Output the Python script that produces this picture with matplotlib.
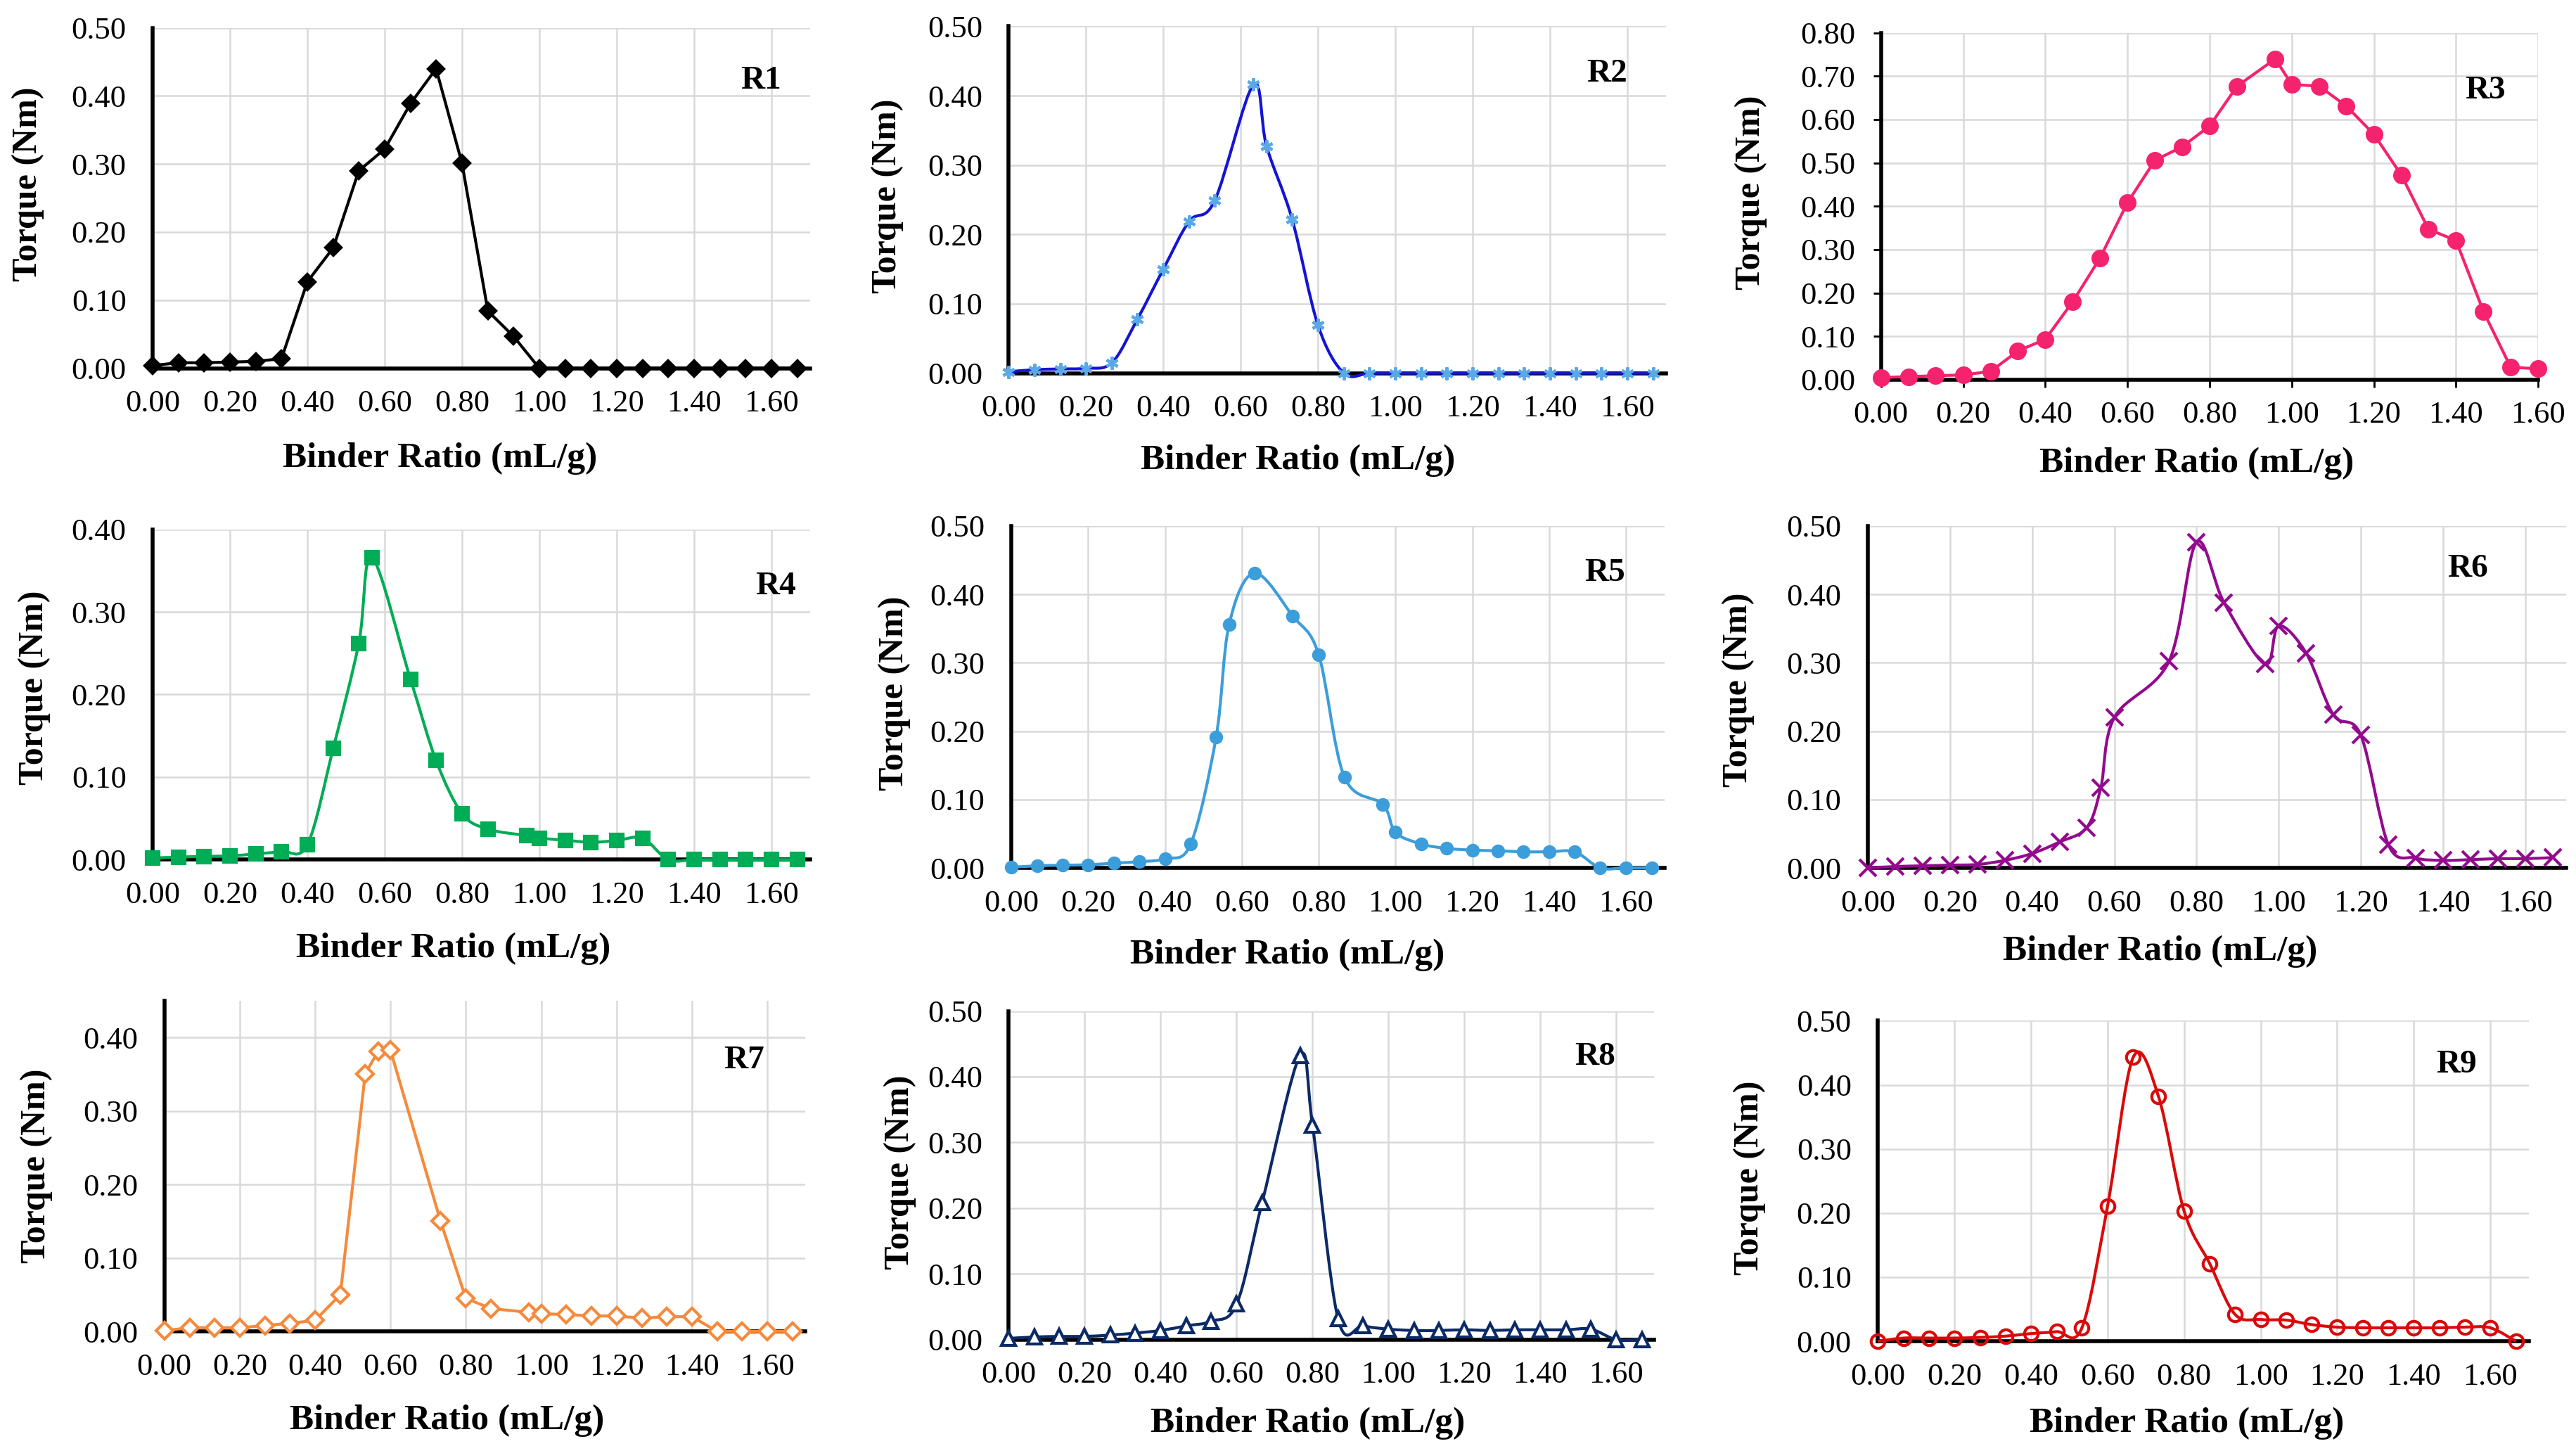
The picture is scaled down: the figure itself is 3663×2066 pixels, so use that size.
import numpy as np
import matplotlib
import matplotlib.pyplot as plt
from matplotlib.path import Path
from matplotlib.patches import PathPatch

matplotlib.use('agg')

plt.rcParams['font.family'] = ['Liberation Serif', 'DejaVu Serif']

# Data (binder ratio in mL/g, torque in Nm)
r1_x = [0, 0.067, 0.133, 0.2, 0.267, 0.333, 0.4, 0.467, 0.533, 0.6, 0.667, 0.733, 0.8, 0.867, 0.933,
        1.0, 1.067, 1.133, 1.2, 1.267, 1.333, 1.4, 1.467, 1.533, 1.6, 1.667]
r1_y = [0.004, 0.008, 0.008, 0.009, 0.010, 0.014, 0.127, 0.177, 0.290, 0.322, 0.389, 0.440, 0.301, 0.084,
        0.047, 0, 0, 0, 0, 0, 0, 0, 0, 0, 0, 0]

r2_x = [0, 0.067, 0.133, 0.2, 0.267, 0.333, 0.4, 0.467, 0.533, 0.633, 0.667, 0.733, 0.8, 0.867, 0.933,
        1.0, 1.067, 1.133, 1.2, 1.267, 1.333, 1.4, 1.467, 1.533, 1.6, 1.667]
r2_y = [0.002, 0.005, 0.006, 0.007, 0.015, 0.078, 0.150, 0.219, 0.249, 0.416, 0.327, 0.222, 0.069, 0,
        0, 0, 0, 0, 0, 0, 0, 0, 0, 0, 0, 0]

r3_x = [0, 0.067, 0.133, 0.2, 0.267, 0.333, 0.4, 0.467, 0.533, 0.6, 0.667, 0.733, 0.8, 0.867, 0.96,
        1.0, 1.067, 1.133, 1.2, 1.267, 1.333, 1.4, 1.467, 1.533, 1.6]
r3_y = [0.005, 0.007, 0.009, 0.011, 0.019, 0.066, 0.093, 0.180, 0.280, 0.408, 0.506, 0.537, 0.585, 0.677,
        0.740, 0.681, 0.677, 0.631, 0.566, 0.472, 0.347, 0.321, 0.157, 0.029, 0.025]

r4_x = [0, 0.067, 0.133, 0.2, 0.267, 0.333, 0.4, 0.467, 0.533, 0.567, 0.667, 0.733, 0.8, 0.867, 0.967,
        1.0, 1.067, 1.133, 1.2, 1.267, 1.333, 1.4, 1.467, 1.533, 1.6, 1.667]
r4_y = [0.002, 0.003, 0.004, 0.0045, 0.007, 0.010, 0.018, 0.135, 0.262, 0.366, 0.218, 0.120, 0.056, 0.037,
        0.029, 0.026, 0.0235, 0.021, 0.023, 0.026, 0, 0, 0, 0, 0, 0]

r5_x = [0, 0.067, 0.133, 0.2, 0.267, 0.333, 0.4, 0.467, 0.533, 0.567, 0.633, 0.733, 0.8, 0.867, 0.967,
        1.0, 1.067, 1.133, 1.2, 1.267, 1.333, 1.4, 1.467, 1.533, 1.6, 1.667]
r5_y = [0.001, 0.003, 0.004, 0.0045, 0.007, 0.009, 0.0135, 0.035, 0.191, 0.356, 0.431, 0.368, 0.312, 0.133,
        0.093, 0.052, 0.035, 0.0285, 0.026, 0.025, 0.0235, 0.0235, 0.0235, 0, 0, 0]

r6_x = [0, 0.067, 0.133, 0.2, 0.267, 0.333, 0.4, 0.467, 0.533, 0.567, 0.6, 0.733, 0.8, 0.867, 0.967,
        1.0, 1.067, 1.133, 1.2, 1.267, 1.333, 1.4, 1.467, 1.533, 1.6, 1.667]
r6_y = [0.0, 0.002, 0.003, 0.004, 0.005, 0.011, 0.021, 0.038, 0.059, 0.117, 0.220, 0.302, 0.476, 0.388,
        0.298, 0.354, 0.314, 0.224, 0.194, 0.034, 0.0145, 0.011, 0.012, 0.0135, 0.0135, 0.015]

r7_x = [0, 0.067, 0.133, 0.2, 0.267, 0.333, 0.4, 0.467, 0.533, 0.567, 0.6, 0.733, 0.8, 0.867, 0.967,
        1.0, 1.067, 1.133, 1.2, 1.267, 1.333, 1.4, 1.467, 1.533, 1.6, 1.667]
r7_y = [0.001, 0.005, 0.005, 0.005, 0.008, 0.011, 0.015, 0.050, 0.351, 0.381, 0.383, 0.150, 0.045, 0.031,
        0.026, 0.024, 0.023, 0.021, 0.021, 0.018, 0.020, 0.020, 0, 0, 0, 0]

r8_x = [0, 0.067, 0.133, 0.2, 0.267, 0.333, 0.4, 0.467, 0.533, 0.6, 0.667, 0.767, 0.8, 0.867, 0.933,
        1.0, 1.067, 1.133, 1.2, 1.267, 1.333, 1.4, 1.467, 1.533, 1.6, 1.667]
r8_y = [0.002, 0.004, 0.005, 0.005, 0.007, 0.010, 0.014, 0.021, 0.028, 0.054, 0.208, 0.432, 0.326, 0.032,
        0.021, 0.016, 0.014, 0.014, 0.015, 0.014, 0.015, 0.015, 0.015, 0.016, 0, 0]

r9_x = [0, 0.067, 0.133, 0.2, 0.267, 0.333, 0.4, 0.467, 0.533, 0.6, 0.667, 0.733, 0.8, 0.867, 0.933,
        1.0, 1.067, 1.133, 1.2, 1.267, 1.333, 1.4, 1.467, 1.533, 1.6, 1.667]
r9_y = [0.0, 0.005, 0.005, 0.005, 0.006, 0.008, 0.012, 0.015, 0.021, 0.211, 0.443, 0.382, 0.203, 0.121,
        0.042, 0.034, 0.033, 0.026, 0.022, 0.021, 0.021, 0.021, 0.021, 0.022, 0.021, 0]

names = ['R1', 'R2', 'R3', 'R4', 'R5', 'R6', 'R7', 'R8', 'R9']
xs = [r1_x, r2_x, r3_x, r4_x, r5_x, r6_x, r7_x, r8_x, r9_x]
ys = [r1_y, r2_y, r3_y, r4_y, r5_y, r6_y, r7_y, r8_y, r9_y]
y_max = [0.5, 0.5, 0.8, 0.4, 0.5, 0.5, 0.45, 0.5, 0.5]
y_top_tick = [0.5, 0.5, 0.8, 0.4, 0.5, 0.5, 0.4, 0.5, 0.5]
x_max = [1.7, 1.7, 1.6, 1.7, 1.7, 1.7, 1.7, 1.7, 1.7]

# styles per panel: line colour, marker, marker face, marker edge, size, smoothed
styles = [
    dict(color='#000000', marker='D', mfc='#000000', mec='#000000', ms=11, smooth=False),
    dict(color='#1414D2', marker=(6, 2, 0), mfc='#5AA8E6', mec='#5AA8E6', ms=13, smooth=True),
    dict(color='#F5226E', marker='o', mfc='#F5226E', mec='#F5226E', ms=15, smooth=False),
    dict(color='#00AC55', marker='s', mfc='#00AC55', mec='#00AC55', ms=13, smooth=True),
    dict(color='#3C9DDB', marker='o', mfc='#3C9DDB', mec='#3C9DDB', ms=11, smooth=True),
    dict(color='#930A8E', marker='x', mfc='#930A8E', mec='#930A8E', ms=17, smooth=True),
    dict(color='#F58A3C', marker='D', mfc='white', mec='#F58A3C', ms=12, smooth=False),
    dict(color='#0B2A66', marker='^', mfc='white', mec='#0B2A66', ms=14, smooth=True),
    dict(color='#DA0A0A', marker='o', mfc='none', mec='#DA0A0A', ms=14, smooth=True),
]

# axes rectangles in figure fraction
rects = [
    [0.0593, 0.7466, 0.2551, 0.2342],
    [0.3916, 0.7432, 0.2551, 0.2387],
    [0.7302, 0.7387, 0.2551, 0.2387],
    [0.0593, 0.4084, 0.2551, 0.2273],
    [0.3926, 0.4027, 0.2535, 0.2353],
    [0.7251, 0.4027, 0.2711, 0.2353],
    [0.0638, 0.0837, 0.2487, 0.2274],
    [0.3916, 0.0780, 0.2506, 0.2262],
    [0.7290, 0.0769, 0.2526, 0.2206],
]
ylab_pos = [(-0.19, 0.54), (-0.185, 0.51), (-0.1975, 0.54), (-0.18, 0.52), (-0.179, 0.51),
            (-0.186, 0.52), (-0.20, 0.50), (-0.168, 0.51), (-0.197, 0.51)]
xlab_pos = [(0.4375, -0.266), (0.44, -0.251), (0.48, -0.242), (0.4575, -0.269), (0.423, -0.255),
            (0.419, -0.245), (0.441, -0.269), (0.463, -0.255), (0.475, -0.256)]
tag_pos = [(0.925, 0.845), (0.91, 0.863), (0.92, 0.834), (0.9475, 0.826), (0.909, 0.861),
           (0.859, 0.875), (0.905, 0.82), (0.908, 0.86), (0.889, 0.862)]


def smooth_path(x, y):
    # Excel-like smoothed line as cubic Bezier segments through the points
    pts = np.column_stack([x, y]).astype(float)
    n = len(pts)
    verts = [pts[0]]
    codes = [Path.MOVETO]
    for i in range(n - 1):
        p0 = pts[max(i - 1, 0)]
        p1 = pts[i]
        p2 = pts[i + 1]
        p3 = pts[min(i + 2, n - 1)]
        verts += [p1 + (p2 - p0) / 6, p2 - (p3 - p1) / 6, p2]
        codes += [Path.CURVE4] * 3
    return Path(verts, codes)


fig = plt.figure(figsize=(36.63, 20.66), dpi=100)

for i in range(9):
    ax = fig.add_axes(rects[i])
    st = styles[i]
    x, y = xs[i], ys[i]

    if st['smooth']:
        ax.add_patch(PathPatch(smooth_path(x, y), fill=False, edgecolor=st['color'], lw=3, zorder=3,
                               clip_on=False))
        ax.plot(x, y, linestyle='none', marker=st['marker'], ms=st['ms'], mfc=st['mfc'], mec=st['mec'],
                mew=3, zorder=4, clip_on=False)
    else:
        ax.plot(x, y, color=st['color'], lw=3, marker=st['marker'], ms=st['ms'], mfc=st['mfc'],
                mec=st['mec'], mew=3, zorder=4, clip_on=False)

    ax.set_xlim(0, x_max[i])
    ax.set_ylim(0, y_max[i])
    ax.set_xticks(np.arange(0, 1.61, 0.2))
    ax.set_yticks(np.arange(0, y_top_tick[i] + 0.001, 0.1))
    ax.xaxis.set_major_formatter(matplotlib.ticker.FormatStrFormatter('%.2f'))
    ax.yaxis.set_major_formatter(matplotlib.ticker.FormatStrFormatter('%.2f'))
    ax.grid(True, color='#d9d9d9', lw=1.8)
    ax.set_axisbelow(True)

    for s in ['top', 'right']:
        ax.spines[s].set_visible(False)
    for s in ['left', 'bottom']:
        ax.spines[s].set_linewidth(4)
        ax.spines[s].set_color('black')

    if names[i] == 'R3':
        ax.tick_params(axis='both', length=8, width=2, direction='out', labelsize=32)
        ax.tick_params(axis='x', pad=14)
        ax.tick_params(axis='y', pad=18)
    else:
        ax.tick_params(axis='both', length=0, labelsize=32)
        ax.tick_params(axis='x', pad=22)
        ax.tick_params(axis='y', pad=27)

    ax.set_xlabel('Binder Ratio (mL/g)', fontsize=37, fontweight='bold', va='center')
    ax.set_ylabel('Torque (Nm)', fontsize=36, fontweight='bold', va='center')
    ax.xaxis.set_label_coords(*xlab_pos[i])
    ax.yaxis.set_label_coords(*ylab_pos[i])

    ax.text(tag_pos[i][0], tag_pos[i][1], names[i], transform=ax.transAxes, fontsize=34,
            fontweight='bold', ha='center', va='center')

fig.savefig('out.png', dpi=100)
